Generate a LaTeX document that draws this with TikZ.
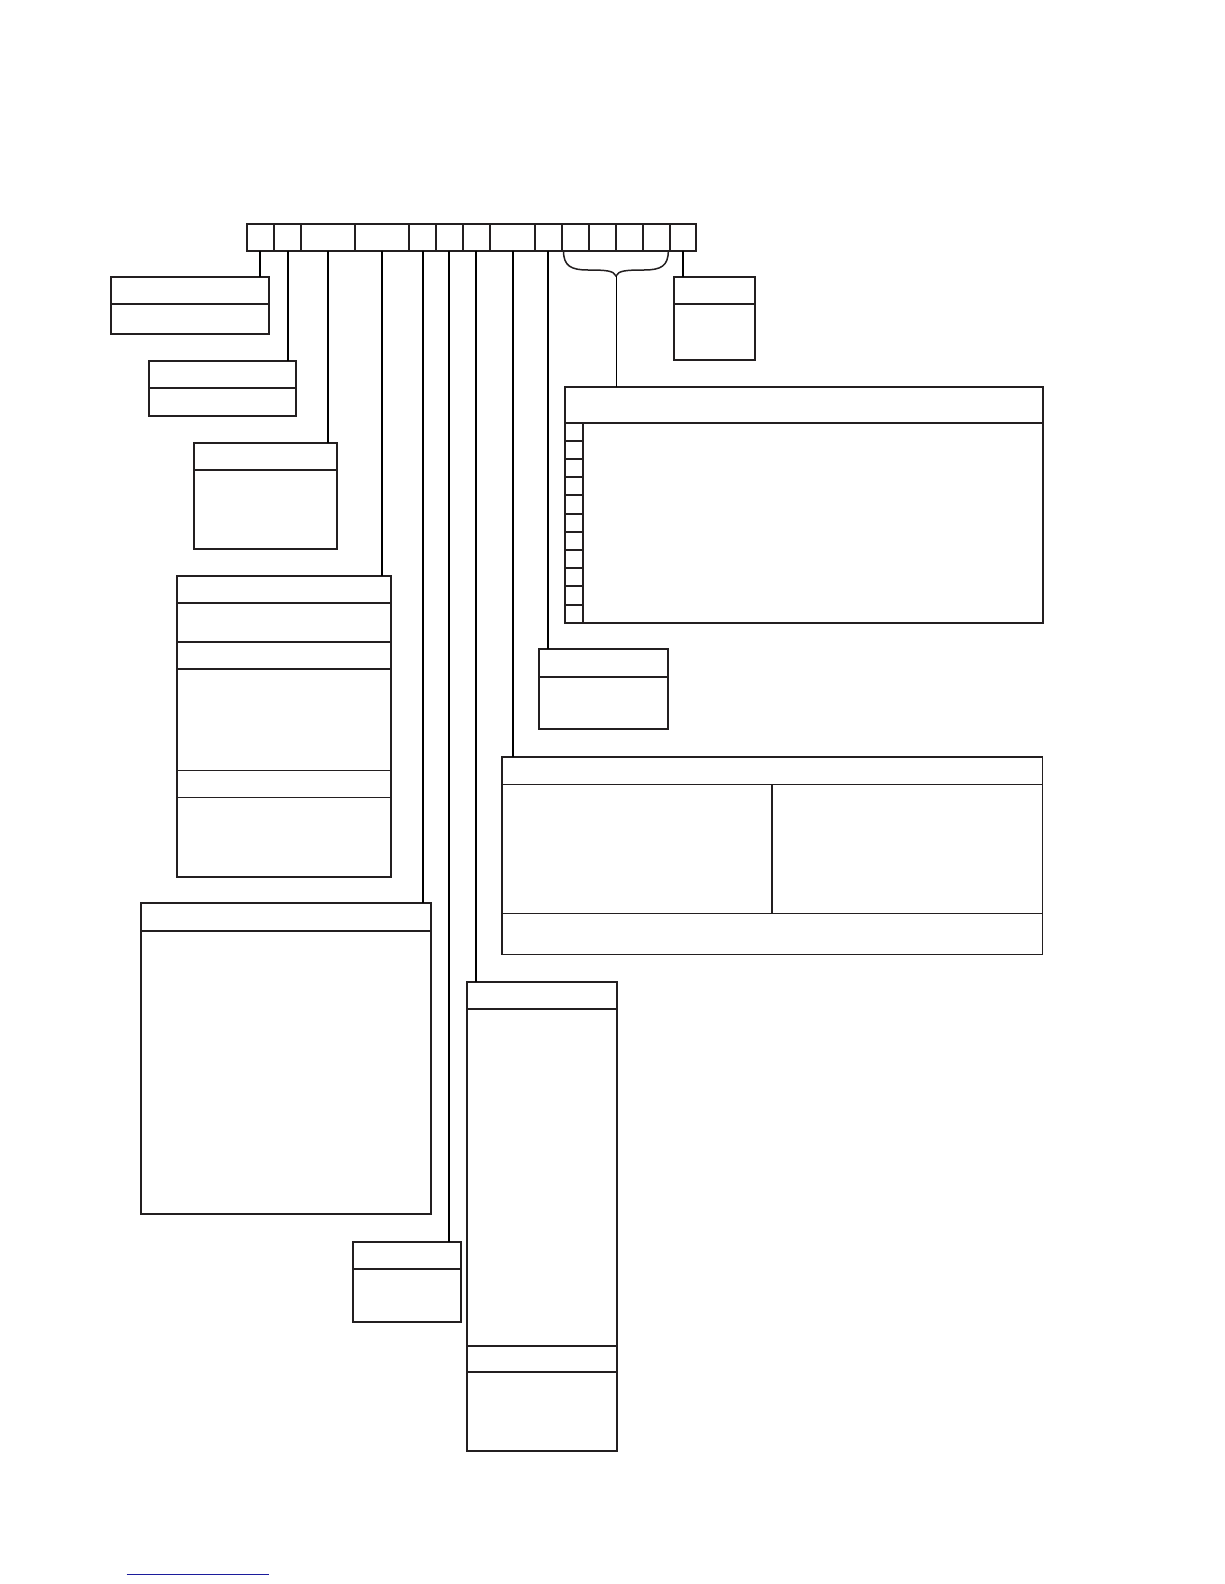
\documentclass[tikz,border=0pt]{standalone}
\usetikzlibrary{calc}
\definecolor{ink}{HTML}{231F20}
\definecolor{navy}{HTML}{1C1C9C}
\begin{document}
\begin{tikzpicture}[x=1pt,y=-1pt,
  box/.style={draw=ink,line width=2pt,rectangle,anchor=north west,inner sep=0pt,outer sep=0pt},
  cell/.style={draw=ink,line width=2pt,rectangle,anchor=north west,inner sep=0pt,outer sep=0pt,minimum height=26.7pt},
  thick div/.style={draw=ink,line width=2pt},
  thin div/.style={draw=ink,line width=1.5pt},
  wire/.style={draw=black,line width=2pt},
  thinwire/.style={draw=black,line width=1pt}]
\useasboundingbox (0,0) rectangle (1224,1584);
\fill[white] (0,0) rectangle (1224,1584);

% top bar cells
\foreach \n/\a/\b in {1/246.7/274,2/274/301,3/301/355,4/355/409,5/409/436,6/436/462.7,7/462.7/490,8/490/535,9/535/561.7,10/561.7/589,11/589/616,12/616/643.3,13/643.3/670,14/670/696}{
  \pgfmathsetmacro\w{\b-\a}
  \node[cell,minimum width=\w pt] (c\n) at (\a,224) {};
}

% boxes
\node[box,minimum width=158.6pt,minimum height=57.3pt] (A) at (110.7,276.7) {};
\node[box,minimum width=147.3pt,minimum height=54.7pt] (B) at (148.7,361) {};
\node[box,minimum width=143.3pt,minimum height=106.6pt] (C) at (193.7,442.7) {};
\node[box,minimum width=214.3pt,minimum height=301pt] (D) at (176.7,575.7) {};
\node[box,minimum width=289.6pt,minimum height=310.7pt] (E) at (141.4,903.3) {};
\node[box,minimum width=108.2pt,minimum height=80.3pt] (F) at (352.5,1241.7) {};
\node[box,minimum width=150.3pt,minimum height=469pt] (G) at (467,982.3) {};
\node[box,line width=1.7pt,minimum width=540.2pt,minimum height=197.2pt] (H) at (502.3,757.3) {};
\node[box,minimum width=128.6pt,minimum height=79.6pt] (I) at (539,649.4) {};
\node[box,minimum width=477.8pt,minimum height=235.7pt] (J) at (564.7,387) {};
\node[box,minimum width=80.2pt,minimum height=83pt] (K) at (674.3,276.7) {};

% dividers
\draw[thick div] (A.west |- 0,304) -- (A.east |- 0,304);
\draw[thick div] (B.west |- 0,387.7) -- (B.east |- 0,387.7);
\draw[thick div] (C.west |- 0,469.7) -- (C.east |- 0,469.7);
\foreach \y in {602.7,642,668.7} \draw[thick div] (D.west |- 0,\y) -- (D.east |- 0,\y);
\foreach \y in {770.7,797.3} \draw[thin div] (D.west |- 0,\y) -- (D.east |- 0,\y);
\draw[thick div] (E.west |- 0,930.7) -- (E.east |- 0,930.7);
\draw[thick div] (F.west |- 0,1268.7) -- (F.east |- 0,1268.7);
\foreach \y in {1009,1345.7,1372.3} \draw[thick div] (G.west |- 0,\y) -- (G.east |- 0,\y);
\foreach \y in {784.3,913.3} \draw[thin div] (H.west |- 0,\y) -- (H.east |- 0,\y);
\draw[thin div] (772,784.3) -- (772,913.3);
\draw[thick div] (I.west |- 0,676.7) -- (I.east |- 0,676.7);
\draw[thick div] (K.west |- 0,304) -- (K.east |- 0,304);
\draw[thick div] (J.west |- 0,422.7) -- (J.east |- 0,422.7);
\draw[thick div] (583,422.7) -- (583,0 |- J.south);
\foreach \k in {1,...,10} \draw[thick div] (J.west |- 0,{422.7+\k*18.18}) -- (583,{422.7+\k*18.18});

% connectors
\draw[wire] (c1.south) -- (c1.south |- A.north);
\draw[wire] (c2.south) -- (c2.south |- B.north);
\draw[wire] (c3.south) -- (c3.south |- C.north);
\draw[wire] (c4.south) -- (c4.south |- D.north);
\draw[wire] (c5.south) -- (c5.south |- E.north);
\draw[wire] (c6.south) -- (c6.south |- F.north);
\draw[wire] (c7.south) -- (c7.south |- G.north);
\draw[wire] (c8.south) -- (c8.south |- H.north);
\draw[wire] (c9.south) -- (c9.south |- I.north);
\draw[wire] (c14.south) -- (c14.south |- K.north);

% brace
\coordinate (tip) at (616,276);
\draw[ink,line width=1.5pt] (563.5,250.7) .. controls (563.5,266) and (571,270) .. (588,270)
  .. controls (605,270) and (614,270.5) .. (tip)
  .. controls (618,270.5) and (627,270) .. (644,270)
  .. controls (661,270) and (668.3,266) .. (668.3,250.7);
\draw[thinwire] (tip) -- (tip |- J.north);

% blue rule at the bottom
\draw[navy,line width=1.3pt] (126.7,1574.7) -- (269,1574.7);
\end{tikzpicture}
\end{document}
